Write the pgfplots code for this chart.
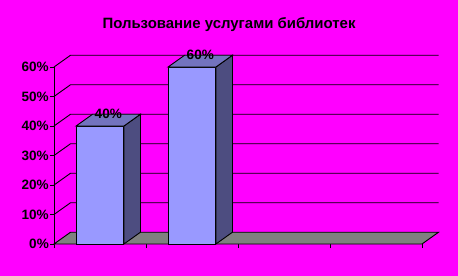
\documentclass[border=0pt]{standalone}
\usepackage{fontspec}
\setmainfont{Liberation Sans}
\usepackage{pgfplots}
\usepackage{pgfplotstable}
\pgfplotsset{compat=1.18}

\definecolor{bg}{HTML}{FF00FF}
\definecolor{barfront}{HTML}{9999FF}
\definecolor{bartop}{HTML}{7373BF}
\definecolor{barside}{HTML}{4D4D80}
\definecolor{floorgray}{HTML}{808080}

\newcommand\labfont{\fontsize{13.6}{16}\selectfont\bfseries}
\newcommand\titlefont{\fontsize{15}{18}\selectfont\bfseries}

% share of respondents, per category slot
\pgfplotstableread{
idx value
0 40
1 60
}\libdata

% one 3-D bar: front face, side face, top face
% #1 = category position, #2 = value; depth offset is (0.18, 4)
\newcommand\barbox[2]{%
  \pgfmathsetmacro\bxl{#1-0.26}%
  \pgfmathsetmacro\bxr{#1+0.26}%
  \pgfmathsetmacro\bxld{#1-0.26+0.18}%
  \pgfmathsetmacro\bxrd{#1+0.26+0.18}%
  \pgfmathsetmacro\byt{#2+4}%
  \addplot[draw=black, line width=0.9bp, fill=barfront]
    coordinates {(\bxl,0) (\bxr,0) (\bxr,#2) (\bxl,#2)} -- cycle;
  \addplot[draw=black, line width=0.9bp, fill=barside]
    coordinates {(\bxr,0) (\bxrd,4) (\bxrd,\byt) (\bxr,#2)} -- cycle;
  \addplot[draw=black, line width=0.9bp, fill=bartop]
    coordinates {(\bxl,#2) (\bxr,#2) (\bxrd,\byt) (\bxld,\byt)} -- cycle;
}

\begin{document}
\begin{tikzpicture}
\fill[bg] (0,0) rectangle (458bp,276bp);
\node[font=\titlefont] at (229bp,251.7bp) {Пользование услугами библиотек};

\pgfplotstablegetelem{0}{value}\of\libdata \edef\vA{\pgfplotsretval}
\pgfplotstablegetelem{1}{value}\of\libdata \edef\vB{\pgfplotsretval}

\begin{axis}[
  at={(54bp,32bp)}, anchor=south west,
  scale only axis, width=386.4bp, height=194.7bp,
  xmin=-0.5, xmax=3.7, ymin=0, ymax=66,
  clip=false,
  axis line style={draw=none},
  tick align=outside, major tick length=4bp,
  tick style={black, line width=0.9bp},
  xtick pos=bottom, ytick pos=left,
  xtick={-0.5,0.5,1.5,2.5,3.5}, xticklabels={},
  ytick={0,10,...,60},
  /pgf/number format/assume math mode=true,
  yticklabel={\pgfmathprintnumber{\tick}\%},
  yticklabel style={font=\labfont, inner sep=1bp},
]
% floor
\addplot[draw=black, line width=0.9bp, fill=floorgray]
  coordinates {(-0.5,0) (3.5,0) (3.68,4) (-0.32,4)} -- cycle;
% side-wall diagonals and back-wall gridlines
\addplot[black, line width=0.9bp] coordinates {(-0.5,10) (-0.32,14) (3.68,14)};
\addplot[black, line width=0.9bp] coordinates {(-0.5,20) (-0.32,24) (3.68,24)};
\addplot[black, line width=0.9bp] coordinates {(-0.5,30) (-0.32,34) (3.68,34)};
\addplot[black, line width=0.9bp] coordinates {(-0.5,40) (-0.32,44) (3.68,44)};
\addplot[black, line width=0.9bp] coordinates {(-0.5,50) (-0.32,54) (3.68,54)};
\addplot[black, line width=0.9bp] coordinates {(-0.5,60) (-0.32,64) (3.68,64)};
% front value axis
\addplot[black, line width=0.9bp] coordinates {(-0.5,0) (-0.5,60)};
% bars
\barbox{0}{\vA}
\barbox{1}{\vB}
% value labels
\addplot[draw=none, mark=none, point meta=explicit,
  nodes near coords={\pgfmathprintnumber{\pgfplotspointmeta}\%},
  nodes near coords style={anchor=center, font=\labfont, inner sep=0pt}]
  table[x expr=\thisrow{idx}+0.09, y expr=\thisrow{value}+4.2, meta=value] {\libdata};
\end{axis}
\end{tikzpicture}
\end{document}
